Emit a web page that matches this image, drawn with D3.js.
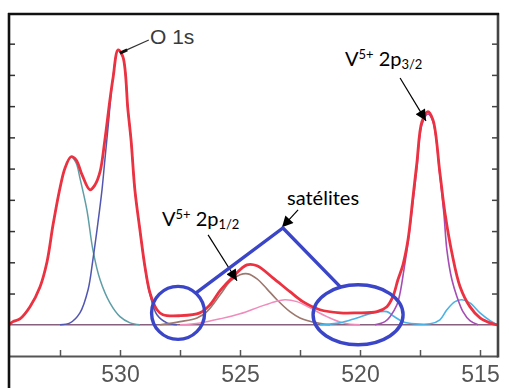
<!DOCTYPE html>
<html>
<head>
<meta charset="utf-8">
<script src="https://cdn.jsdelivr.net/npm/d3@7"></script>
<style>
  html, body { margin: 0; padding: 0; background: #fff; }
  svg { display: block; }
</style>
</head>
<body>
<svg id="chart" width="509" height="388"></svg>
<script>
// Binding energy (eV) and intensity (a.u.) samples for the fitted XPS spectrum
const envelopeEV = [534.63,534.46,534.17,533.75,533.33,533.04,532.79,532.50,532.29,532.04,531.83,531.58,531.25,531.04,530.83,530.63,530.42,530.29,530.08,529.88,529.67,529.54,529.38,529.17,528.96,528.75,528.46,528.21,527.50,526.67,526.25,525.83,525.29,524.71,524.29,523.63,522.92,522.38,521.67,520.83,520.13,519.29,518.88,518.63,518.42,518.21,518.00,517.79,517.63,517.42,517.17,516.96,516.67,516.46,516.17,515.83,515.42,515.00,514.58,514.29];
const envelopeI  = [0.00,0.10,0.19,0.58,1.22,2.02,3.20,4.38,5.02,5.38,5.28,4.80,4.32,4.48,4.90,5.92,7.20,7.90,8.80,8.58,6.88,5.92,4.32,3.04,1.86,1.02,0.48,0.32,0.29,0.38,0.64,1.09,1.54,1.92,1.89,1.50,1.06,0.74,0.48,0.38,0.38,0.42,0.58,0.90,1.44,1.92,2.72,4.10,5.18,6.50,6.82,6.56,4.86,3.58,2.30,1.22,0.58,0.22,0.06,0.00];

// O 1s component near 532 eV
const o1sHighEV = [534.63,534.46,534.17,533.75,533.33,533.04,532.79,532.50,532.29,532.04,531.83,531.67,531.38,531.13,530.83,530.42,530.00,529.58,529.17];
const o1sHighI  = [0.00,0.10,0.19,0.58,1.22,2.02,3.20,4.38,5.02,5.38,5.18,4.70,3.68,2.40,1.44,0.70,0.26,0.06,0.00];

// O 1s lattice component near 530 eV
const o1sLowEV = [532.50,532.08,531.67,531.33,531.13,530.92,530.75,530.63,530.50,530.29,530.08,529.88,529.67,529.54,529.38,529.17,528.96,528.75,528.46,528.04,527.63];
const o1sLowI  = [0.00,0.06,0.38,1.12,2.08,3.26,4.32,5.28,6.30,7.94,8.80,8.58,6.88,5.92,4.32,3.04,1.82,0.96,0.32,0.06,0.00];

// V5+ 2p1/2 component
const v2p12EV = [528.33,527.50,526.79,526.38,525.83,525.42,525.00,524.67,524.29,523.88,523.46,522.92,522.50,521.79,521.25];
const v2p12I  = [0.00,0.10,0.22,0.42,0.96,1.38,1.60,1.63,1.47,1.15,0.80,0.42,0.22,0.06,0.00];

// Satellite component near 523 eV
const sat523EV = [527.50,526.67,525.83,525.00,524.17,523.54,523.13,522.63,522.08,521.38,520.71,520.00];
const sat523I  = [0.00,0.06,0.19,0.35,0.58,0.74,0.80,0.74,0.54,0.26,0.06,0.00];

// Satellite components near 519 and 516 eV
const sat516EV = [521.67,520.83,520.13,519.46,518.88,518.63,518.21,517.71,517.08,516.67,516.38,516.04,515.75,515.42,515.00,514.58,514.29];
const sat516I  = [0.00,0.06,0.22,0.38,0.42,0.29,0.10,0.03,0.03,0.16,0.48,0.74,0.80,0.70,0.38,0.13,0.00];

// V5+ 2p3/2 component
const v2p32EV = [519.38,518.96,518.75,518.46,518.33,518.17,518.00,517.79,517.63,517.42,517.17,516.96,516.67,516.50,516.38,516.17,515.96,515.71,515.42,515.08];
const v2p32I  = [0.00,0.10,0.26,0.64,1.02,1.76,2.62,3.94,5.02,6.40,6.75,6.50,4.77,3.52,2.40,1.44,0.90,0.42,0.13,0.00];

// Axis ticks
const xTickValues = [532.5, 530, 527.5, 525, 522.5, 520, 517.5, 515];
const xTickLabels = ["", "530", "", "525", "", "520", "", "515"];
const yTickValues = [1, 2, 3, 4, 5, 6, 7, 8, 9];

const zip = (xs, ys) => xs.map((v, i) => [v, ys[i]]);

const svg = d3.select("#chart");
const box = { left: 9, right: 498, top: 14, bottom: 356 };

const x = d3.scaleLinear().domain([534.625, 514.25]).range([box.left, box.right]);
const y = d3.scaleLinear().domain([-1, 9.95]).range([box.bottom, box.top]);

const defs = svg.append("defs");
defs.append("clipPath").attr("id", "plotClip")
  .append("rect").attr("x", box.left).attr("y", box.top)
  .attr("width", box.right - box.left).attr("height", box.bottom - box.top);
defs.append("filter").attr("id", "soft").attr("x", "-5%").attr("y", "-5%").attr("width", "110%").attr("height", "110%")
  .append("feGaussianBlur").attr("stdDeviation", 0.55);
defs.append("filter").attr("id", "softText")
  .append("feGaussianBlur").attr("stdDeviation", 0.35);
defs.append("marker").attr("id", "arrowHead")
  .attr("viewBox", "0 0 10 10").attr("refX", 10).attr("refY", 5)
  .attr("markerWidth", 12).attr("markerHeight", 11).attr("markerUnits", "userSpaceOnUse")
  .attr("orient", "auto")
  .append("path").attr("d", "M0,0 L10,5 L0,10 Z").attr("fill", "#000");

const line = d3.line()
  .x(d => x(d[0]))
  .y(d => y(d[1]))
  .curve(d3.curveCatmullRom.alpha(0.5));

const plot = svg.append("g").attr("clip-path", "url(#plotClip)")
  .append("g").attr("filter", "url(#soft)");

// zero-intensity baseline
plot.append("line")
  .attr("x1", x(534.625)).attr("x2", x(514.25))
  .attr("y1", y(0)).attr("y2", y(0))
  .attr("stroke", "#86607c").attr("stroke-width", 1.6);

const components = [
  { data: zip(o1sHighEV, o1sHighI), color: "#5f9ea6", w: 1.5 },
  { data: zip(o1sLowEV, o1sLowI), color: "#5256b0", w: 1.5 },
  { data: zip(v2p12EV, v2p12I), color: "#9c786e", w: 1.6 },
  { data: zip(sat523EV, sat523I), color: "#f08cbc", w: 1.5 },
  { data: zip(sat516EV, sat516I), color: "#4cb2e6", w: 1.6 },
  { data: zip(v2p32EV, v2p32I), color: "#a54db4", w: 1.6 }
];
components.forEach(c => {
  plot.append("path").datum(c.data)
    .attr("d", line).attr("fill", "none")
    .attr("stroke", c.color).attr("stroke-width", c.w);
});

plot.append("path").datum(zip(envelopeEV, envelopeI))
  .attr("d", line).attr("fill", "none")
  .attr("stroke", "#ec3140").attr("stroke-width", 2.8)
  .attr("stroke-linejoin", "round");

// Axes: inward ticks on all sides
const xAxis = d3.axisBottom(x).tickValues(xTickValues).tickSize(-6)
  .tickFormat((d, i) => xTickLabels[i]);
const gx = svg.append("g").attr("transform", `translate(0,${box.bottom})`).call(xAxis);
gx.select(".domain").remove();
gx.selectAll(".tick line").attr("stroke", "#555").attr("stroke-width", 1.5);
gx.selectAll(".tick text")
  .attr("y", 26).attr("dy", 0)
  .attr("font-family", "'Liberation Sans', Arial, sans-serif")
  .attr("font-size", 23).attr("fill", "#555")
  .attr("filter", "url(#softText)");

const gl = svg.append("g").attr("transform", `translate(${box.left},0)`)
  .call(d3.axisLeft(y).tickValues(yTickValues).tickSize(-6).tickFormat(""));
gl.select(".domain").remove();
gl.selectAll(".tick line").attr("stroke", "#333").attr("stroke-width", 1.5);

const gr = svg.append("g").attr("transform", `translate(${box.right},0)`)
  .call(d3.axisRight(y).tickValues(yTickValues).tickSize(-6).tickFormat(""));
gr.select(".domain").remove();
gr.selectAll(".tick line").attr("stroke", "#444").attr("stroke-width", 1.5);

// frame
svg.append("line").attr("x1", box.left).attr("x2", box.right)
  .attr("y1", box.bottom + 0.5).attr("y2", box.bottom + 0.5)
  .attr("stroke", "#555").attr("stroke-width", 2.2);
svg.append("line").attr("x1", box.right).attr("x2", box.right)
  .attr("y1", box.top - 1).attr("y2", box.bottom + 1.5)
  .attr("stroke", "#444").attr("stroke-width", 2.6);
svg.append("line").attr("x1", box.left - 1).attr("x2", box.right + 1)
  .attr("y1", box.top).attr("y2", box.top)
  .attr("stroke", "#111").attr("stroke-width", 2.6);
svg.append("line").attr("x1", box.left).attr("x2", box.left)
  .attr("y1", box.top - 1).attr("y2", 388)
  .attr("stroke", "#111").attr("stroke-width", 2.6);

// O 1s label with leader line
svg.append("line")
  .attr("x1", x(529.95)).attr("y1", y(8.72))
  .attr("x2", x(528.8)).attr("y2", y(9.12))
  .attr("stroke", "#333").attr("stroke-width", 1.2);
svg.append("line")
  .attr("x1", x(530.0)).attr("y1", y(8.7))
  .attr("x2", x(529.7)).attr("y2", y(8.8))
  .attr("stroke", "#111").attr("stroke-width", 3);
svg.append("text")
  .attr("x", x(528.75)).attr("y", y(8.99))
  .attr("font-family", "'Liberation Sans', Arial, sans-serif")
  .attr("font-size", 21).attr("fill", "#3a3a3a")
  .text("O 1s");

// Peak labels (V5+ 2p)
function peakLabel(ev, inten, sub) {
  const t = svg.append("text")
    .attr("x", x(ev)).attr("y", y(inten))
    .attr("font-family", "Lato, 'Open Sans', sans-serif")
    .attr("font-size", 20).attr("fill", "#000");
  t.append("tspan").text("V");
  t.append("tspan").attr("font-size", 13).attr("dy", -7).text("5+");
  t.append("tspan").attr("dy", 7).attr("dx", 5).text("2p");
  t.append("tspan").attr("font-size", 13).attr("dy", 3).text(sub);
}
peakLabel(520.625, 8.29, "3/2");
peakLabel(528.25, 3.17, "1/2");

svg.append("text")
  .attr("x", x(523.04)).attr("y", y(3.84))
  .attr("font-family", "Lato, 'Open Sans', sans-serif")
  .attr("font-size", 20).attr("fill", "#000")
  .text("satélites");

// Pointer arrows
const arrows = [
  { from: [518.33, 7.90], to: [517.25, 6.53] },
  { from: [526.33, 2.88], to: [525.125, 1.41] },
  { from: [522.58, 3.68], to: [523.25, 3.12] }
];
arrows.forEach(a => {
  svg.append("line")
    .attr("x1", x(a.from[0])).attr("y1", y(a.from[1]))
    .attr("x2", x(a.to[0])).attr("y2", y(a.to[1]))
    .attr("stroke", "#000").attr("stroke-width", 1.2)
    .attr("marker-end", "url(#arrowHead)");
});

// Satellite highlight: circles joined by a bracket line
const hl = "#3a45c8";
svg.append("path")
  .attr("d", d3.line()([[x(526.83), y(1.02)], [x(523.21), y(3.10)], [x(520.83), y(1.22)]]))
  .attr("fill", "none").attr("stroke", hl).attr("stroke-width", 3.4)
  .attr("stroke-linejoin", "miter");
svg.append("ellipse")
  .attr("cx", x(527.58)).attr("cy", y(0.38))
  .attr("rx", 26.5).attr("ry", 26.5)
  .attr("fill", "none").attr("stroke", hl).attr("stroke-width", 3.4);
svg.append("ellipse")
  .attr("cx", x(520.08)).attr("cy", y(0.32))
  .attr("rx", 45).attr("ry", 30)
  .attr("fill", "none").attr("stroke", hl).attr("stroke-width", 3.4);
</script>
</body>
</html>
